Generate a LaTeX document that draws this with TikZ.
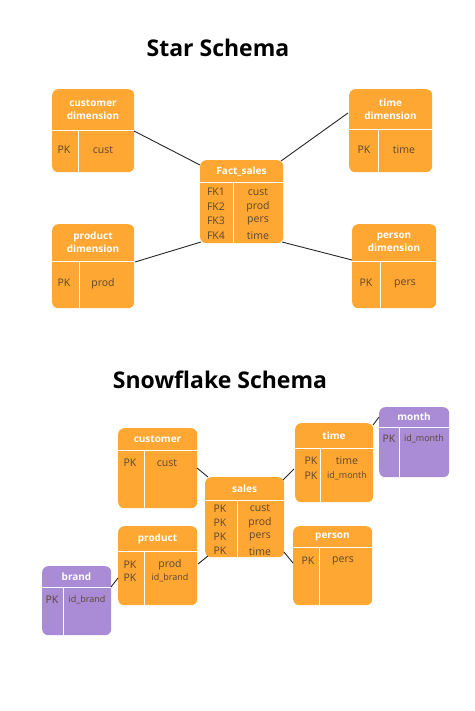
\documentclass[tikz,border=0pt]{standalone}
\usepackage{fontspec}
\setmainfont{Open Sans}
\begin{document}
\begin{tikzpicture}[x=1pt,y=-1pt,
  box/.style={rounded corners=6pt,inner sep=0pt,anchor=north west},
  hd/.style={text=white,font=\bfseries\fontsize{10}{13}\selectfont,align=center},
  bd/.style={text=txt,font=\fontsize{10.5}{12}\selectfont},
  bs/.style={text=txt,font=\fontsize{9}{11}\selectfont},
  ln/.style={black!85,line width=0.9pt}]
\definecolor{org}{HTML}{FFA733}
\definecolor{pur}{HTML}{A98BD6}
\definecolor{txt}{HTML}{5A4630}
\useasboundingbox (0,0) rectangle (474,711);
\newcommand{\tbl}[9]{%
  \node[box,fill=#8,minimum width=#4-#2,minimum height=#5-#3] (#1) at (#2,#3) {};
  \draw[white,line width=1pt] (#2,#6) -- (#4,#6);
  \draw[white,line width=1pt] (#7,#6) -- (#7,#5);
  \node[hd] at ({(#2+#4)/2},{(#3+#6)/2}) {#9};}
\node[font=\bfseries\fontsize{23}{26}\selectfont] (t1) at (218,48) {Star Schema};
\node[font=\bfseries\fontsize{23}{26}\selectfont] (t2) at (220,380) {Snowflake Schema};
% star
\tbl{c}{52}{89}{134}{172}{131}{78}{org}{customer\\dimension}
\tbl{t}{349}{89}{432}{172}{130}{378}{org}{time\\dimension}
\tbl{f}{200}{160}{283}{243}{183}{233}{org}{Fact\_sales}
\tbl{p}{52}{224}{134}{308}{261}{79}{org}{product\\dimension}
\tbl{s}{352}{224}{436}{308}{261}{380}{org}{person\\dimension}
\node[bd] at (64,150) {PK}; \node[bd] at (103,150) {cust};
\node[bd] at (364,150) {PK}; \node[bd] at (404,150) {time};
\node[bd] at (64,283) {PK}; \node[bd] at (103,284) {prod};
\node[bd] at (366,283) {PK}; \node[bd] at (405,284) {pers};
\foreach \a/\b [count=\i] in {FK1/cust,FK2/prod,FK3/pers,FK4/time}{
  \node[bd] at (216,{177+14.7*\i}) {\a}; \node[bd] at (258,{177+14.7*\i}) {\b};}
\coordinate (c1) at (134,131); \coordinate (f1) at (200,165);
\coordinate (t1e) at (348,113); \coordinate (f2) at (281,161);
\coordinate (p1) at (135,262); \coordinate (f3) at (201,242);
\coordinate (s1) at (352,260); \coordinate (f4) at (282,242);
\draw[ln] (c1)--(f1); \draw[ln] (t1e)--(f2); \draw[ln] (p1)--(f3); \draw[ln] (s1)--(f4);
% snowflake
\tbl{sc}{118}{428}{197}{508}{450}{144}{org}{customer}
\tbl{st}{295}{423}{373}{502}{448}{320}{org}{time}
\tbl{sm}{379}{407}{449}{477}{427}{399}{pur}{month}
\tbl{ss}{205}{477}{284}{557}{500}{237}{org}{sales}
\tbl{sp}{118}{526}{197}{605}{551}{144}{org}{product}
\tbl{sr}{293}{526}{372}{605}{547}{319}{org}{person}
\tbl{sb}{42}{566}{111}{635}{587}{63}{pur}{brand}
\node[bd] at (130,463) {PK}; \node[bd] at (167,463) {cust};
\node[bd] at (311,461) {PK}; \node[bd] at (347,461) {time};
\node[bd] at (311,476) {PK}; \node[bs] at (347,476) {id\_month};
\node[bd] at (389,439) {PK}; \node[bs] at (424,439) {id\_month};
\node[bd] at (130,565) {PK}; \node[bd] at (170,565) {prod};
\node[bd] at (130,578) {PK}; \node[bs] at (170,578) {id\_brand};
\node[bd] at (308,561) {PK}; \node[bd] at (343,561) {pers};
\node[bd] at (52,600) {PK}; \node[bs] at (87,600) {id\_brand};
\foreach \b [count=\i] in {cust,prod,pers,time}{
  \node[bd] at (220,{494+14.3*\i}) {PK}; \node[bd] at (260,{494+14.3*\i}) {\b};}
\coordinate (a1) at (197,468); \coordinate (a2) at (208,477);
\coordinate (b1) at (283,480); \coordinate (b2) at (294,469);
\coordinate (d1) at (198,564); \coordinate (d2) at (208,556);
\coordinate (e1) at (284,552); \coordinate (e2) at (293,563);
\coordinate (g1) at (373,425); \coordinate (g2) at (379,417);
\coordinate (h1) at (111,587); \coordinate (h2) at (118,578);
\draw[ln] (a1)--(a2); \draw[ln] (b1)--(b2); \draw[ln] (d1)--(d2);
\draw[ln] (e1)--(e2); \draw[ln] (g1)--(g2); \draw[ln] (h1)--(h2);
\end{tikzpicture}
\end{document}
